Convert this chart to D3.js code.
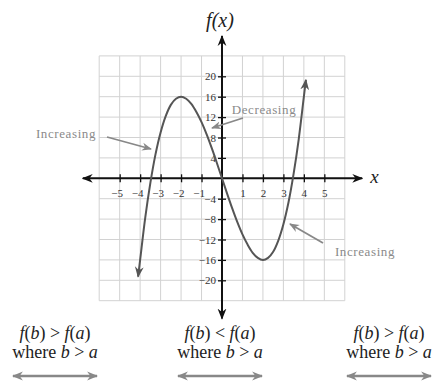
<!DOCTYPE html>
<html><head><meta charset="utf-8">
<script src="https://cdn.jsdelivr.net/npm/d3@7"></script>
<style>
body{margin:0;background:#fff;}
svg{display:block;}
text{font-family:"Liberation Serif","DejaVu Serif",serif;}
</style></head>
<body>
<script>
// ---- data ----
const curveX = [-4.1,-4,-3.75,-3.5,-3.25,-3,-2.75,-2.5,-2.25,-2,-1.75,-1.5,-1.25,-1,-0.75,-0.5,-0.25,0,0.25,0.5,0.75,1,1.25,1.5,1.75,2,2.25,2.5,2.75,3,3.25,3.5,3.75,4,4.1];
const curveY = [-19.3,-16,-7.7,-0.9,4.7,9,12.2,14.4,15.6,16,15.6,14.6,13.0,11,8.6,5.9,3.0,0,-3.0,-5.9,-8.6,-11,-13.0,-14.6,-15.6,-16,-15.6,-14.4,-12.2,-9,-4.7,0.9,7.7,16,19.3];
const xTicks = [-5,-4,-3,-2,-1,1,2,3,4,5];
const yTicks = [-20,-16,-12,-8,-4,4,8,12,16,20];
const gridX = [-6,-5,-4,-3,-2,-1,0,1,2,3,4,5,6];
const gridY = [-24,-20,-16,-12,-8,-4,0,4,8,12,16,20,24];
const annotations = ["Increasing","Decreasing","Increasing"];
const bottomLine1 = ["f(b) > f(a)","f(b) < f(a)","f(b) > f(a)"];
const bottomLine2 = ["where b > a","where b > a","where b > a"];

const W=441,H=381;
const svg=d3.select("body").append("svg").attr("width",W).attr("height",H);
const x=d3.scaleLinear().domain([-6,6]).range([99.2,344.8]);
const y=d3.scaleLinear().domain([-24,24]).range([300.7,55.9]);

const defs=svg.append("defs");
function marker(id,color,size){
  defs.append("marker").attr("id",id).attr("viewBox","0 0 10 10").attr("refX",9).attr("refY",5)
   .attr("markerWidth",size).attr("markerHeight",size).attr("orient","auto-start-reverse")
   .attr("markerUnits","userSpaceOnUse")
   .append("path").attr("d","M0,1 L10,5 L0,9 L3,5 Z").attr("fill",color);
}
marker("axArrow","#111",11);
marker("cvArrow","#555",11);
marker("anArrow","#888",10);
marker("btArrow","#888",11);

// grid
svg.append("g").selectAll("line").data(gridX).join("line")
 .attr("x1",d=>x(d)).attr("x2",d=>x(d)).attr("y1",y(24)).attr("y2",y(-24))
 .attr("stroke","#d2d2d2").attr("stroke-width",1);
svg.append("g").selectAll("line").data(gridY).join("line")
 .attr("y1",d=>y(d)).attr("y2",d=>y(d)).attr("x1",x(-6)).attr("x2",x(6))
 .attr("stroke","#d2d2d2").attr("stroke-width",1);

// axes lines with arrows
svg.append("line").attr("x1",x(-6.8)).attr("x2",x(6.85)).attr("y1",y(0)).attr("y2",y(0))
 .attr("stroke","#111").attr("stroke-width",2)
 .attr("marker-start","url(#axArrow)").attr("marker-end","url(#axArrow)");
svg.append("line").attr("x1",x(0)).attr("x2",x(0)).attr("y1",y(-27.5)).attr("y2",y(27.9))
 .attr("stroke","#111").attr("stroke-width",2)
 .attr("marker-start","url(#axArrow)").attr("marker-end","url(#axArrow)");

// x axis ticks
const gx=svg.append("g").attr("transform",`translate(0,${y(0)})`)
 .call(d3.axisBottom(x).tickValues(xTicks).tickSize(4).tickPadding(7));
gx.select(".domain").remove();
gx.selectAll(".tick line").attr("y1",-4).attr("y2",4).attr("stroke","#111").attr("stroke-width",1.3);
gx.selectAll(".tick text").attr("font-size",11).attr("fill","#333")
 .attr("dx",d=>d<0?-3:0)
 .attr("font-family","'Liberation Serif',serif");

// y axis ticks
const gy=svg.append("g").attr("transform",`translate(${x(0)},0)`)
 .call(d3.axisLeft(y).tickValues(yTicks).tickSize(4).tickPadding(2));
gy.select(".domain").remove();
gy.selectAll(".tick line").attr("x1",-4).attr("x2",4).attr("stroke","#111").attr("stroke-width",1.3);
gy.selectAll(".tick text").attr("font-size",11).attr("fill","#333")
 .attr("font-family","'Liberation Serif',serif");

// curve
const pts=curveX.map((d,i)=>[d,curveY[i]]);
svg.append("path").datum(pts)
 .attr("d",d3.line().x(d=>x(d[0])).y(d=>y(d[1])).curve(d3.curveCatmullRom))
 .attr("fill","none").attr("stroke","#555").attr("stroke-width",2)
 .attr("marker-start","url(#cvArrow)").attr("marker-end","url(#cvArrow)");

// axis titles
svg.append("text").attr("x",x(0)-2).attr("y",27).attr("text-anchor","middle")
 .attr("font-size",20).attr("font-style","italic").attr("fill","#222").text("f(x)");
svg.append("text").attr("x",x(7.45)).attr("y",y(0)+5).attr("text-anchor","middle")
 .attr("font-size",19).attr("font-style","italic").attr("fill","#222").text("x");

// annotations
const annPos=[
 {tx:66,ty:138,ax1:107,ay1:137,ax2:151,ay2:149},
 {tx:264,ty:114,ax1:243,ay1:118,ax2:212,ay2:128},
 {tx:365,ty:256,ax1:323,ay1:243,ax2:290,ay2:224}
];
annotations.forEach((t,i)=>{
  const p=annPos[i];
  svg.append("line").attr("x1",p.ax1).attr("y1",p.ay1).attr("x2",p.ax2).attr("y2",p.ay2)
   .attr("stroke","#888").attr("stroke-width",1.8).attr("marker-end","url(#anArrow)");
  svg.append("text").attr("x",p.tx).attr("y",p.ty).attr("text-anchor","middle")
   .attr("font-size",13).attr("letter-spacing",0.6).attr("fill","#8a8a8a").text(t);
});

// bottom labels
const bx=[55,220,389];
const arrowHalf=42;
bottomLine1.forEach((t,i)=>{
  const txt=svg.append("text").attr("x",bx[i]).attr("y",339).attr("text-anchor","middle")
   .attr("font-size",18).attr("fill","#222");
  const parts=t.match(/f|\(|b|a|\)|\s*[<>]\s*/g);
  parts.forEach(p=>{
    const it=(p==="f"||p==="b"||p==="a");
    txt.append("tspan").attr("font-style",it?"italic":"normal").text(p);
  });
  const t2=svg.append("text").attr("x",bx[i]).attr("y",358).attr("text-anchor","middle")
   .attr("font-size",18).attr("fill","#222");
  bottomLine2[i].split(/(\bb\b|\ba\b)/).forEach(p=>{ if(p==="") return;
    t2.append("tspan").attr("font-style",(p==="b"||p==="a")?"italic":"normal").text(p);
  });
  svg.append("line").attr("x1",bx[i]-arrowHalf).attr("x2",bx[i]+arrowHalf).attr("y1",376).attr("y2",376)
   .attr("stroke","#888").attr("stroke-width",2.5)
   .attr("marker-start","url(#btArrow)").attr("marker-end","url(#btArrow)");
});
</script>
</body></html>
